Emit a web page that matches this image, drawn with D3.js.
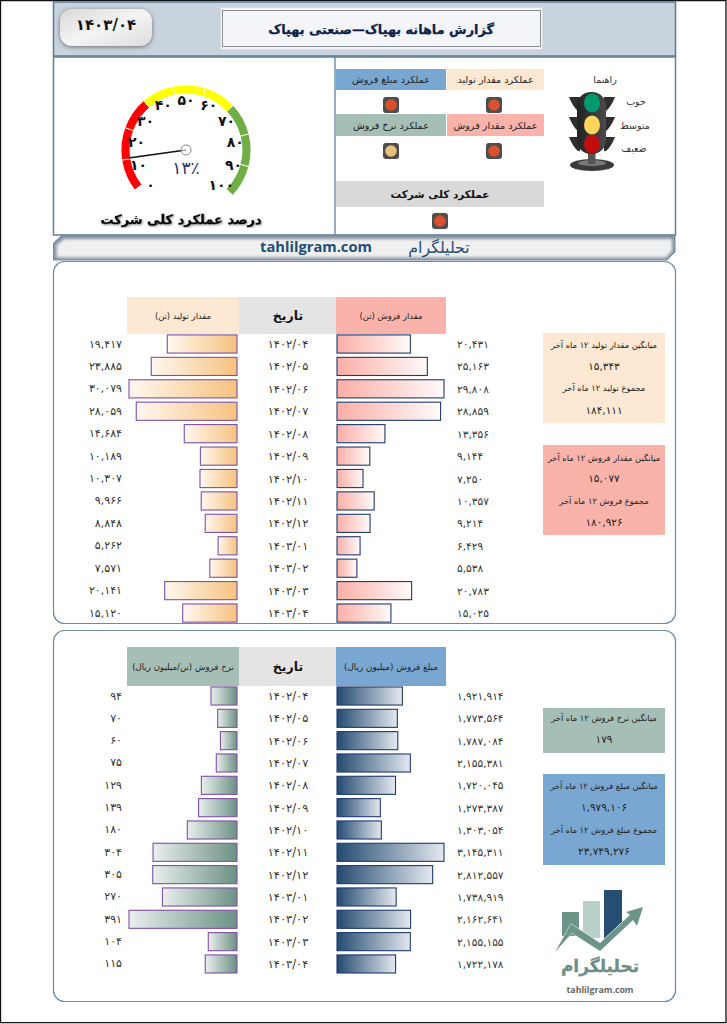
<!DOCTYPE html>
<html lang="fa"><head><meta charset="utf-8">
<style>html,body{margin:0;padding:0;background:#fff}svg{display:block}text{font-family:"DejaVu Sans",sans-serif}</style>
<script src="https://cdn.jsdelivr.net/npm/d3@7/dist/d3.min.js"></script></head>
<body><svg id="c" width="727" height="1024"></svg>
<script>
const dates=["1402/04","1402/05","1402/06","1402/07","1402/08","1402/09","1402/10","1402/11","1402/12","1403/01","1403/02","1403/03","1403/04"];
const production=[19417,23885,30079,28059,14684,10189,10307,9966,8848,5262,7571,20141,15120];
const sales=[20431,25163,29808,28859,13356,9144,7250,10357,9214,6429,5538,20783,15025];
const amount=[1921914,1773564,1787084,2155381,1720045,1273387,1303054,3145311,2812557,1738919,2162641,2155155,1722178];
const rate=[94,70,60,75,129,139,180,304,305,270,391,104,115];
const gaugeTicks=[0,10,20,30,40,50,60,70,80,90,100];
const gaugeSegments=["#ff0000","#ff0000","#ff0000","#ffff00","#ffff00","#ffff00","#70ad47","#70ad47","#70ad47"];
const gaugeValue=13;

const fa=s=>String(s).replace(/\d/g,d=>"۰۱۲۳۴۵۶۷۸۹"[d]);
const num=v=>fa(d3.format(",")(v));
const svg=d3.select("#c"), defs=svg.append("defs");
const T=(x,y,s,size,o={})=>svg.append("text").attr("x",x).attr("y",y).attr("text-anchor",o.a||"middle")
  .attr("font-size",size).attr("font-weight",o.w||"normal").attr("fill",o.c||"#222").attr("dominant-baseline","central")
  .attr("stroke",o.st?(o.c||"#222"):null).attr("stroke-width",o.st||null)
  .style("font-family",o.f||null).text(s);
const R=(x,y,w,h,f,o={})=>svg.append("rect").attr("x",x).attr("y",y).attr("width",w).attr("height",h).attr("fill",f)
  .attr("rx",o.r||0).attr("stroke",o.s||"none").attr("stroke-width",o.sw||1);
const grad=(id,a,b)=>{const g=defs.append("linearGradient").attr("id",id);
  g.append("stop").attr("offset",0).attr("stop-color",a);g.append("stop").attr("offset",1).attr("stop-color",b);};
grad("gProd","#fff8f0","#f6c27f");grad("gSales","#fbaea6","#fffafa");grad("gAmt","#234a70","#e4e9ef");grad("gRate","#eaefed","#6b9184");
grad("gBody","#222","#4a4a4a");
const gb=defs.append("linearGradient").attr("id","gBtn").attr("x1",0).attr("y1",0).attr("x2",1).attr("y2",1);
gb.append("stop").attr("offset",0).attr("stop-color","#d8d8d8");gb.append("stop").attr("offset",.5).attr("stop-color","#f4f4f4");gb.append("stop").attr("offset",1).attr("stop-color","#dcdcdc");
const sh=defs.append("filter").attr("id","shadow").attr("x","-20%").attr("y","-20%").attr("width","140%").attr("height","150%");
sh.append("feDropShadow").attr("dx",0).attr("dy",1).attr("stdDeviation",2).attr("flood-color","#555").attr("flood-opacity",.8);
const ts=defs.append("filter").attr("id","tshadow");
ts.append("feDropShadow").attr("dx",1).attr("dy",1).attr("stdDeviation",1).attr("flood-color","#666").attr("flood-opacity",.7);
defs.append("filter").attr("id","blur").append("feGaussianBlur").attr("stdDeviation",1.6);

// page frame
svg.append("path").attr("d","M0.5 0.5H726V1022.7H0.5Z").attr("fill","none").attr("stroke","#111").attr("stroke-width",1.3);

// header
R(53.5,2,622,54,"#c8d3dd",{s:"#5f7f9a",sw:1.6});
R(60,9,92,37,"url(#gBtn)",{r:12}).attr("filter","url(#shadow)");
T(106,25,fa("1403/04"),15,{w:"bold",c:"#111"});
R(220,7,323,43,"#f1f3f6",{s:"#c5c9cf",sw:1});
R(222.5,10.5,318,36,"#f3f5f8",{s:"#8a8f96",sw:1});
T(381,29,"گزارش ماهانه بهپاک—صنعتی بهپاک",12.8,{w:"bold",c:"#0f1f4a",st:.25});

// main panel
R(53.5,57,622,178,"#fff",{s:"#5f7f9a",sw:1.5});
svg.append("line").attr("x1",335).attr("x2",335).attr("y1",57).attr("y2",235).attr("stroke","#5f7f9a").attr("stroke-width",1.3);

// gauge
const cx=186,cy=150;
const segAngle=d3.scaleLinear().domain([0,9]).range([-128,134]);
const arc=d3.arc().innerRadius(56).outerRadius(65);
const toRad=d=>d*Math.PI/180;
svg.append("g").selectAll("path").data(gaugeSegments).join("path")
 .attr("transform",`translate(${cx},${cy})`).attr("fill",d=>d).attr("stroke","#fff").attr("stroke-width",.8)
 .attr("d",(d,i)=>arc({startAngle:toRad(segAngle(i)),endAngle:toRad(segAngle(i+1))}));
const tickAngle=d3.scaleLinear().domain([0,100]).range([-135,135]);
gaugeTicks.forEach(t=>{const a=toRad(tickAngle(t));
  T(cx+50*Math.sin(a),cy-50*Math.cos(a),fa(t),14,{w:"bold",c:"#111"});});
const na=toRad(tickAngle(gaugeValue)+2);
svg.append("line").attr("x1",cx).attr("y1",cy).attr("x2",cx+58*Math.sin(na)).attr("y2",cy-58*Math.cos(na)).attr("stroke","#111").attr("stroke-width",1.6);
svg.append("circle").attr("cx",cx).attr("cy",cy).attr("r",5).attr("fill","#fff").attr("fill-opacity",.6).attr("stroke","#888");
T(186,168,fa(gaugeValue)+"٪",17,{c:"#1f3864"});
T(181,219,"درصد عملکرد کلی شرکت",13,{w:"bold",c:"#000",st:.3}).attr("filter","url(#tshadow)");

// status
const light=(x,y,c)=>{R(x-8,y-8,16,16,"#4d4d4d",{r:3});svg.append("circle").attr("cx",x).attr("cy",y).attr("r",5.8).attr("fill",c);};
[[447,69,97,21,"#fde9d3","عملکرد مقدار تولید",494,105,"#d9512c"],
 [336,69,110,21,"#7aa7d2","عملکرد مبلغ فروش",391,105,"#d9512c"],
 [447,114,97,22,"#fab3aa","عملکرد مقدار فروش",494,151,"#d9512c"],
 [336,114,110,22,"#a6bfb6","عملکرد نرخ فروش",391,151,"#e8bf78"]].forEach(d=>{
  R(d[0],d[1],d[2],d[3],d[4]);T(d[0]+d[2]/2,d[1]+d[3]/2,d[5],9.6,{c:"#222"});light(d[6],d[7],d[8]);});
R(336,181,208,26,"#d9d9d9");T(440,194,"عملکرد کلی شرکت",10.5,{w:"bold",c:"#111"});light(440,221,"#d9512c");

// traffic light
const tl=svg.append("g");
tl.append("ellipse").attr("cx",592).attr("cy",165).attr("rx",22).attr("ry",6).attr("fill","#3a3a3a");
tl.append("ellipse").attr("cx",592).attr("cy",163).attr("rx",14).attr("ry",3).attr("fill","#777");
tl.append("rect").attr("x",588).attr("y",150).attr("width",7.5).attr("height",14).attr("fill","#555");
[97,117,137].forEach(y=>{
  tl.append("path").attr("d",`M569 ${y}H580V${y+14}L578 ${y+14}Q573 ${y+10} 569 ${y}Z`).attr("fill","#2e2e2e");
  tl.append("path").attr("d",`M615 ${y}H604V${y+14}L606 ${y+14}Q611 ${y+10} 615 ${y}Z`).attr("fill","#2e2e2e");});
tl.append("rect").attr("x",577).attr("y",92).attr("width",29).attr("height",62).attr("rx",14).attr("fill","url(#gBody)");
[[103,"#009a6e"],[125,"#ffd65c"],[144,"#c00d0d"]].forEach(d=>tl.append("ellipse").attr("cx",592).attr("cy",d[0]).attr("rx",8).attr("ry",9.5).attr("fill",d[1]));
[[605,79,"راهنما"],[636,101,"خوب"],[635,125,"متوسط"],[634,148,"ضعیف"]].forEach(d=>T(d[0],d[1],d[2],9.5,{c:"#333"}));

// banner (chamfered bevel)
svg.append("path").attr("d","M62 235H675V252L667 260H53.5V243Z").attr("fill","#85929e").attr("stroke","#6f8ba3").attr("stroke-width",1);
svg.append("path").attr("d","M64 239H672V251L666 257.5H56.5V245Z").attr("fill","#f0f0f0").attr("filter","url(#blur)");
T(316,246,"tahlilgram.com",14.7,{w:"bold",c:"#1f4e79",f:"'Open Sans'"});
T(439,247,"تحلیلگرام",15.8,{c:"#1f4e79"});

// tables
const L0=237,R0=337;
function table(top,step,hy,hh,leftVals,rightVals,hLeft,hRight,cL,cR,gL,gR,sL,sR,fsL,fsR){
  R(53.5,top.panel,622,top.panelH,"#fff",{r:11,s:"#6f8ba3",sw:1.2});
  R(127,hy,112,hh,cL);R(239,hy,97,hh,"#e4e4e4");R(336,hy,110,hh,cR);
  T(183,hy+hh/2,hLeft,fsL,{c:"#222"});T(288,hy+hh/2,"تاریخ",12.5,{w:"bold",c:"#111"});T(391,hy+hh/2,hRight,fsR,{c:"#222"});
  const y=d3.scaleBand().domain(dates).range([top.first-step/2,top.first-step/2+step*13]).paddingInner(.19).paddingOuter(.095);
  const xL=d3.scaleLinear().domain([0,d3.max(leftVals)]).range([L0,129]);
  const xR=d3.scaleLinear().domain([0,d3.max(rightVals)]).range([R0,444]);
  const g=svg.append("g");
  g.selectAll(".l").data(leftVals).join("rect").attr("x",d=>xL(d)).attr("width",d=>L0-xL(d)).attr("y",(d,i)=>y(dates[i])).attr("height",y.bandwidth())
    .attr("fill",`url(#${gL})`).attr("stroke",sL).attr("stroke-width",1.1);
  g.selectAll(".r").data(rightVals).join("rect").attr("x",R0).attr("width",d=>xR(d)-R0).attr("y",(d,i)=>y(dates[i])).attr("height",y.bandwidth())
    .attr("fill",`url(#${gR})`).attr("stroke",sR).attr("stroke-width",1.1);
  dates.forEach((d,i)=>{const c=y(d)+y.bandwidth()/2;
    T(288,c,fa(d),11.4,{c:"#333"});
    T(122,c,num(leftVals[i]),11,{a:"end",c:"#333"});
    T(457,c,num(rightVals[i]),10.6,{a:"start",c:"#333"});});
}
table({panel:261.5,panelH:362,first:344},22.42,297,37,production,sales,"مقدار تولید (تن)","مقدار فروش (تن)","#fde9d3","#fab3aa","gProd","gSales","#7f4fa6","#1f3a6e",8.4,8.4);
table({panel:630.5,panelH:371,first:696},22.33,647,39,rate,amount,"نرخ فروش (تن/میلیون ریال)","مبلغ فروش (میلیون ریال)","#a6bfb6","#7aa7d2","gRate","gAmt","#7f4fa6","#1f3a6e",8.6,8.8);

// side boxes
const box=(y,h,c,lines)=>{R(543,y,122,h,c);lines.forEach(l=>T(604,l[0],l[1],l[2]?10.5:8.3,{c:"#222"}));};
box(333,90,"#fde9d3",[[345,"میانگین مقدار تولید ۱۲ ماه آخر"],[366,num(15343),1],[388,"مجموع تولید ۱۲ ماه آخر"],[410,num(184111),1]]);
box(445,90,"#fab3aa",[[458,"میانگین مقدار فروش ۱۲ ماه آخر"],[478,num(15077),1],[501,"مجموع فروش ۱۲ ماه آخر"],[522,num(180926),1]]);
box(708,45,"#a6bfb6",[[718,"میانگین نرخ فروش ۱۲ ماه آخر"],[739,num(179),1]]);
box(774,91,"#7aa7d2",[[786,"میانگین مبلغ فروش ۱۲ ماه آخر"],[807,num(1979106),1],[830,"مجموع مبلغ فروش ۱۲ ماه آخر"],[851,num(23749276),1]]);

// logo
R(562,912,17,24,"#6d9488");R(583,901,17,37,"#b9d0cb");
svg.append("path").attr("d","M604 890H622V922L604 939Z").attr("fill","#254e72");
svg.append("path").attr("d","M555 952L571 924L600 943L630 915L626 912L643 907L637 926L633 920L600 951L572 933Z")
  .attr("fill","#6d9488").attr("stroke","#fff").attr("stroke-width",1).attr("paint-order","stroke");
T(600,966,"تحلیلگرام",17,{w:"bold",c:"#6d8f88",st:.3});
T(600,990,"tahlilgram.com",8.8,{w:"bold",c:"#666",f:"'Open Sans'"});
</script></body></html>
